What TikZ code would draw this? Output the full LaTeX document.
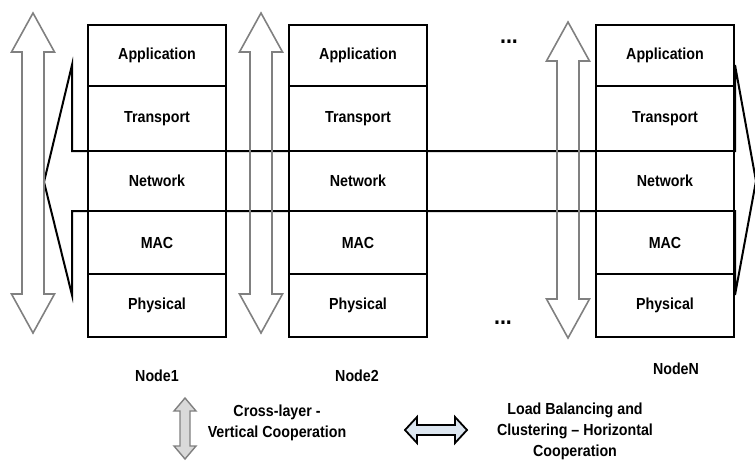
\documentclass[tikz,border=0pt]{standalone}
\usepackage{fontspec}
\setmainfont{Liberation Sans}[FakeStretch=0.89]
\definecolor{arrowgrey}{HTML}{808080}
\definecolor{legendgrey}{HTML}{D9D9D9}
\definecolor{legendblue}{HTML}{DCE6F0}

% one protocol stack: #1 name prefix, #2 left edge
\newcommand\layerstack[2]{%
  \foreach \nm/\txt/\ya/\yb in {app/Application/25/86, tra/Transport/86/151,
      net/Network/151/211, mac/MAC/211/274, phy/Physical/274/337}{
    \node[layerbox, minimum height={(\yb-\ya)*1pt}] (#1\nm)
      at ({#2+69}, {(\ya+\yb)/2}) {\txt};
  }}

% hollow vertical double arrow: #1 centre x, #2 top tip, #3 bottom tip
\newcommand\vdarrow[3]{%
  \draw[vgrey] ({#1-11},{#2+39}) -- ({#1-21.5},{#2+39}) -- (#1,#2)
    -- ({#1+21.5},{#2+39}) -- ({#1+11},{#2+39}) -- ({#1+11},{#3-39})
    -- ({#1+21.5},{#3-39}) -- (#1,#3) -- ({#1-21.5},{#3-39})
    -- ({#1-11},{#3-39}) -- cycle;}

\begin{document}
\begin{tikzpicture}[x=1pt,y=-1pt,
  txt/.style={font=\bfseries\fontsize{16}{21}\selectfont, inner sep=0pt},
  layerbox/.style={txt, draw=black, line width=1.8pt, fill=white,
    minimum width=138pt},
  bigarrow/.style={draw=black, line width=2pt, line join=miter},
  vgrey/.style={draw=arrowgrey, line width=1.6pt, line join=miter},
  lbl/.style={txt, align=center},
  dots/.style={font=\bfseries\fontsize{24}{24}\selectfont, inner sep=0pt}]
\useasboundingbox (0,0) rectangle (755,461);
\clip (0,0) rectangle (755,461);

% horizontal cooperation arrow running through the network layers
\draw[bigarrow] (72,151) -- (72,65) -- (44,182) -- (72,295) -- (72,211)
  -- (735,211) -- (735,295) -- (756,181) -- (735,65) -- (735,151) -- cycle;

% the protocol stacks
\layerstack{a}{88}
\layerstack{b}{289}
\layerstack{c}{596}

% vertical cross-layer arrows
\vdarrow{33}{13}{333}
\vdarrow{261}{13}{333}
\vdarrow{568}{22}{338}

% ellipses between stacks
\node[dots] (dotstop) at (509,42) {...};
\node[dots] (dotsbot) at (503,323) {...};

% stack names
\node[txt] (lab1) at (157,376) {Node1};
\node[txt] (lab2) at (357,376) {Node2};
\node[txt] (labN) at (676,369) {NodeN};

% legend
\draw[draw=arrowgrey, fill=legendgrey, line width=1.4pt, line join=miter]
  (180,411) -- (174,411) -- (185,398) -- (196,411) -- (190,411) -- (190,446)
  -- (196,446) -- (185,459) -- (174,446) -- (180,446) -- cycle;
\node[lbl] (leg1) at (277,423) {Cross-layer -\\Vertical Cooperation};

\draw[draw=black, fill=legendblue, line width=1.8pt, line join=miter]
  (417,425) -- (417,417) -- (405,430) -- (417,443) -- (417,435) -- (455,435)
  -- (455,443) -- (467,430) -- (455,417) -- (455,425) -- cycle;
\node[lbl] (leg2) at (575,431) {Load Balancing and\\Clustering -- Horizontal\\Cooperation};
\end{tikzpicture}
\end{document}
